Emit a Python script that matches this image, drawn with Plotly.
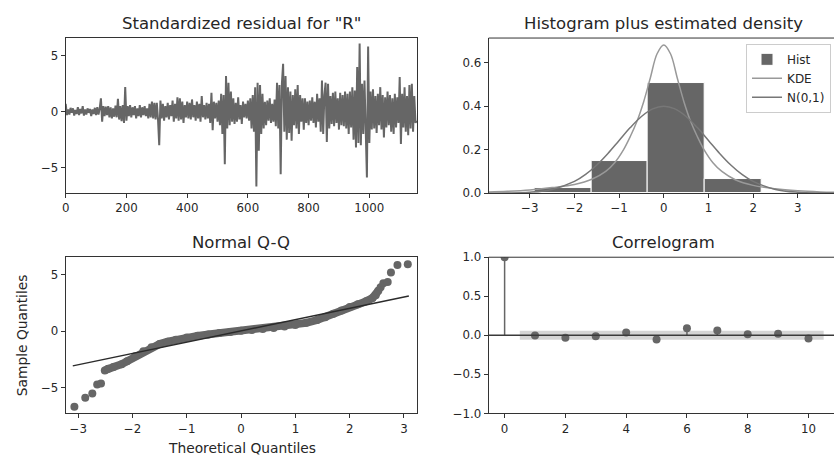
import numpy as np
import plotly.graph_objects as go

# ---------------- data ----------------
# standardized residuals, sampled every 4 observations (blocks of 100 obs)
resid_b0 = [0.7, -0.3, 0.2, -0.25, 0.35, -0.1, 0.3, -0.35, 0.15, -0.2, 0.4, -0.3, 0.25, -0.15, 0.5,
            -0.35, 0.2, -0.25, 0.3, -0.1, 0.25, -0.4, 0.2, -0.2, 0.35]
resid_b1 = [-0.3, 0.4, -0.25, 0.3, 1.2, -0.9, 0.5, -0.4, 0.45, -0.3, 0.5, -0.5, 0.4, -0.6, 0.3,
            -0.45, 0.55, -0.5, 1.15, -0.7, 0.5, -0.85, 0.6, -1.0, 2.2]
resid_b2 = [-0.8, 0.5, -0.4, 0.6, -0.5, 0.4, -0.3, 0.5, -0.6, 0.3, -0.4, 0.6, -0.5, 0.4, -0.3,
            0.5, -0.4, 0.3, -0.6, 0.7, -0.5, 0.9, -0.6, 0.8, -0.7]
resid_b3 = [0.8, -0.7, -3.0, 1.0, -0.6, 0.7, -0.8, 0.5, -0.5, 0.8, -0.7, 0.6, -0.4, 1.0, -0.9,
            0.7, -0.6, 1.3, -0.8, 1.2, -0.7, 0.9, -1.0, 0.6, -0.5]
resid_b4 = [0.9, -0.6, 0.8, -0.7, 1.1, -0.5, 0.6, -0.8, 0.9, -0.6, 0.7, -0.9, 1.4, -0.5, 0.6,
            -0.7, 0.8, -0.6, 0.7, -1.0, 1.7, -1.65, 0.9, -0.6, 0.8]
resid_b5 = [-0.9, 1.0, -1.2, 1.6, -2.0, 1.5, -4.7, 3.2, -1.5, 2.6, -1.2, 1.8, -0.9, 1.2, -1.1,
            0.8, -0.9, 1.3, -0.7, 0.6, -1.1, 0.9, -0.5, 0.7, -0.6]
resid_b6 = [1.0, -0.8, 1.2, -1.5, 1.5, -1.8, 2.2, -6.7, 2.6, -3.5, 2.4, -2.0, 1.6, -1.5, 0.9,
            -1.2, 1.0, -0.8, 1.2, -1.0, 0.7, -0.9, 1.1, -1.3, 2.6]
resid_b7 = [-1.5, 2.4, -5.6, 2.5, 4.3, -1.8, 3.2, -2.5, 2.2, -1.9, 1.8, -2.6, 1.5, -1.2, 2.0,
            -1.5, 2.4, -2.0, 1.5, -0.9, 1.2, -1.6, 1.2, -1.0, 0.9]
resid_b8 = [-1.2, 1.0, -0.8, 1.3, -1.0, 0.9, -1.4, 1.6, -0.9, 1.2, -1.8, 2.8, -2.0, 1.5, 2.6,
            -2.7, 2.5, -1.5, 1.4, -1.1, 1.7, -1.3, 1.8, -1.0, 1.2]
resid_b9 = [-1.6, 1.7, -1.2, 1.5, -1.3, 1.8, -1.5, 1.6, -2.0, 1.8, -1.4, 2.2, -2.5, 1.9, -3.2,
            4.0, -2.8, 6.1, -3.0, 2.5, -2.0, 2.8, -3.3, -5.9, 5.85]
resid_b10 = [-2.8, 1.8, -1.6, 2.0, -1.5, 1.4, -1.9, 1.6, -1.2, 2.2, -1.6, 1.5, -2.3, 1.3, -1.4,
             1.8, -1.2, 1.5, -1.8, 1.2, -2.0, 1.6, -1.4, 1.3, -1.0]
resid_b11 = [3.1, -2.9, 1.6, -1.4, 2.2, -1.8, 1.4, -2.1, 2.4, -1.5, 2.5, -1.8, 1.4, -1.0, -0.8]
resid_values = (resid_b0 + resid_b1 + resid_b2 + resid_b3 + resid_b4 + resid_b5 + resid_b6
                + resid_b7 + resid_b8 + resid_b9 + resid_b10 + resid_b11)
resid_step = 4
resid_index = np.arange(len(resid_values)) * resid_step

# histogram
hist_edges = [-4.16, -2.89, -1.62, -0.35, 0.92, 2.19, 3.46]
hist_density = [0.004, 0.025, 0.147, 0.507, 0.063, 0.007]
# KDE
kde_x = [-3.92, -3.5, -3.0, -2.5, -2.0, -1.6, -1.3, -1.1, -0.9, -0.75, -0.6, -0.45, -0.3, -0.15, 0.0,
         0.15, 0.3, 0.45, 0.6, 0.75, 0.9, 1.1, 1.3, 1.6, 2.0, 2.5, 3.0, 3.5, 3.92]
kde_y = [0.006, 0.009, 0.015, 0.026, 0.040, 0.065, 0.10, 0.14, 0.20, 0.26, 0.33, 0.42, 0.53, 0.64, 0.68,
         0.64, 0.53, 0.42, 0.33, 0.26, 0.20, 0.14, 0.10, 0.062, 0.036, 0.020, 0.011, 0.006, 0.004]
# N(0,1) curve values
norm_x = [-3.92, -3.5, -3.0, -2.5, -2.0, -1.75, -1.5, -1.25, -1.0, -0.75, -0.5, -0.25, 0.0,
          0.25, 0.5, 0.75, 1.0, 1.25, 1.5, 1.75, 2.0, 2.5, 3.0, 3.5, 3.92]
norm_y = [0.0002, 0.0009, 0.0044, 0.0175, 0.0540, 0.0863, 0.1295, 0.1826, 0.2420, 0.3011, 0.3521,
          0.3867, 0.3989, 0.3867, 0.3521, 0.3011, 0.2420, 0.1826, 0.1295, 0.0863, 0.0540, 0.0175,
          0.0044, 0.0009, 0.0002]

# Q-Q
qq_theoretical = [-3.07, -2.87, -2.74, -2.65, -2.58, -2.51, -2.45, -2.35, -2.2, -2.1, -1.95, -1.8,
                  -1.65, -1.5, -1.35, -1.2, -1.0, -0.8, -0.6, -0.4, -0.2, 0.0, 0.2, 0.4, 0.6, 0.8,
                  1.0, 1.2, 1.4, 1.55, 1.7, 1.85, 2.0, 2.15, 2.3, 2.42, 2.48, 2.53, 2.57, 2.62,
                  2.7, 2.76, 2.88, 3.07]
qq_sample = [-6.67, -5.87, -5.5, -4.7, -4.6, -3.45, -3.3, -3.15, -2.9, -2.65, -2.2, -1.75,
             -1.4, -1.12, -0.92, -0.75, -0.55, -0.4, -0.27, -0.15, -0.05, 0.05, 0.12, 0.2, 0.3, 0.42,
             0.56, 0.75, 1.0, 1.25, 1.55, 1.85, 2.15, 2.4, 2.65, 2.95, 3.2, 3.6, 3.9, 4.25,
             4.35, 5.2, 5.86, 5.92]
qq_dense_start, qq_dense_end = 5, 37
qq_line_x = [-3.1, 3.09]
qq_line_y = [-3.05, 3.13]

# Correlogram
acf_lags = [0, 1, 2, 3, 4, 5, 6, 7, 8, 9, 10]
acf_values = [1.0, -0.002, -0.03, -0.012, 0.037, -0.054, 0.09, 0.062, 0.012, 0.02, -0.04]
acf_conf = [0.058, 0.058, 0.058, 0.058, 0.058, 0.058, 0.058, 0.058, 0.058, 0.058]

# ---------------- figure ----------------
W, H = 834, 465
FONT = "DejaVu Sans"
TXT = "#262626"
SPINE = "#333333"


def px(x):
    return x / W


def py(y):
    return 1 - y / H


fig = go.Figure()

# residual line
fig.add_trace(go.Scatter(x=resid_index, y=resid_values, mode="lines",
                         line=dict(color="#666666", width=2), showlegend=False,
                         xaxis="x", yaxis="y"))

# histogram
centers = [(a + b) / 2 for a, b in zip(hist_edges[:-1], hist_edges[1:])]
widths = [b - a for a, b in zip(hist_edges[:-1], hist_edges[1:])]
fig.add_trace(go.Bar(x=centers, y=hist_density, width=widths, name="Hist",
                     marker=dict(color="#666666", line=dict(color="white", width=1)),
                     xaxis="x2", yaxis="y2"))
fig.add_trace(go.Scatter(x=kde_x, y=kde_y, mode="lines", name="KDE", line_shape="spline",
                         line=dict(color="#999999", width=1.5), xaxis="x2", yaxis="y2"))
fig.add_trace(go.Scatter(x=norm_x, y=norm_y, mode="lines", name="N(0,1)", line_shape="spline",
                         line=dict(color="#777777", width=1.5), xaxis="x2", yaxis="y2"))

# Q-Q
fig.add_trace(go.Scatter(x=qq_theoretical[qq_dense_start:qq_dense_end + 1],
                         y=qq_sample[qq_dense_start:qq_dense_end + 1], mode="lines",
                         line=dict(color="#666666", width=8), showlegend=False,
                         xaxis="x3", yaxis="y3"))
fig.add_trace(go.Scatter(x=qq_theoretical, y=qq_sample, mode="markers",
                         marker=dict(color="#666666", size=8), showlegend=False,
                         xaxis="x3", yaxis="y3"))
fig.add_trace(go.Scatter(x=qq_line_x, y=qq_line_y, mode="lines",
                         line=dict(color="#2b2b2b", width=1.5), showlegend=False,
                         xaxis="x3", yaxis="y3"))

# Correlogram band
band_x = [acf_lags[1] - 0.5] + acf_lags[2:-1] + [acf_lags[-1] + 0.5]
band_lo = [-c for c in acf_conf]
fig.add_trace(go.Scatter(x=band_x, y=band_lo, mode="lines", line=dict(width=0, color="#d4d4d4"),
                         showlegend=False, xaxis="x4", yaxis="y4", hoverinfo="skip"))
fig.add_trace(go.Scatter(x=band_x, y=acf_conf, mode="lines", line=dict(width=0, color="#d4d4d4"),
                         fill="tonexty", fillcolor="#d4d4d4", showlegend=False,
                         xaxis="x4", yaxis="y4", hoverinfo="skip"))
stem_x, stem_y = [], []
for lag, v in zip(acf_lags, acf_values):
    stem_x += [lag, lag, None]
    stem_y += [0, v, None]
fig.add_trace(go.Scatter(x=stem_x, y=stem_y, mode="lines", line=dict(color="#666666", width=1.5),
                         showlegend=False, xaxis="x4", yaxis="y4"))
fig.add_trace(go.Scatter(x=acf_lags, y=acf_values, mode="markers",
                         marker=dict(color="#666666", size=8), showlegend=False,
                         xaxis="x4", yaxis="y4"))

axis_common = dict(showline=True, linecolor=SPINE, linewidth=1, ticks="outside", ticklen=4,
                   tickwidth=0.9, tickcolor=SPINE, showgrid=False, zeroline=False,
                   tickfont=dict(family=FONT, size=11.8, color=TXT))

left_dom = [px(62), px(415)]
right_dom = [px(487), 1.0]
top_dom = [py(192), py(32)]
bot_dom = [py(419), py(258)]

fig.update_layout(
    width=W, height=H, margin=dict(l=0, r=0, t=0, b=0),
    paper_bgcolor="white", plot_bgcolor="white", bargap=0,
    font=dict(family=FONT, color=TXT),
    xaxis=dict(domain=left_dom, anchor="y", range=[0, 1157],
               tickvals=[0, 200, 400, 600, 800, 1000], mirror=True, **axis_common),
    yaxis=dict(domain=top_dom, anchor="x", range=[-7.3, 6.6], tickvals=[-5, 0, 5],
               mirror=True, **axis_common),
    xaxis2=dict(domain=right_dom, anchor="y2", range=[-3.92, 3.81],
                tickvals=[-3, -2, -1, 0, 1, 2, 3], **axis_common),
    yaxis2=dict(domain=top_dom, anchor="x2", range=[0, 0.712], tickvals=[0, 0.2, 0.4, 0.6],
                tickformat=".1f", **axis_common),
    xaxis3=dict(domain=left_dom, anchor="y3", range=[-3.23, 3.24],
                tickvals=[-3, -2, -1, 0, 1, 2, 3], mirror=True, **axis_common),
    yaxis3=dict(domain=bot_dom, anchor="x3", range=[-7.25, 6.55], tickvals=[-5, 0, 5],
                mirror=True, **axis_common),
    xaxis4=dict(domain=right_dom, anchor="y4", range=[-0.525, 10.84],
                tickvals=[0, 2, 4, 6, 8, 10], **axis_common),
    yaxis4=dict(domain=bot_dom, anchor="x4", range=[-1, 1], tickvals=[-1, -0.5, 0, 0.5, 1],
                tickformat=".1f", **axis_common),
    legend=dict(x=px(831), xanchor="right", y=py(38), yanchor="top", traceorder="normal",
                bgcolor="rgba(255,255,255,0.9)", bordercolor="#cccccc", borderwidth=1,
                font=dict(family=FONT, size=12, color=TXT), itemwidth=30, tracegroupgap=0),
)

# top spines for right panels, zero line for correlogram
fig.add_shape(type="line", xref="x2 domain", yref="y2 domain", x0=0, x1=1, y0=1, y1=1,
              line=dict(color=SPINE, width=1))
fig.add_shape(type="line", xref="x4 domain", yref="y4 domain", x0=0, x1=1, y0=1, y1=1,
              line=dict(color=SPINE, width=1))
fig.add_shape(type="line", xref="x4 domain", yref="y4", x0=0, x1=1, y0=0, y1=0,
              line=dict(color="#3a3a3a", width=1.5), layer="above")

titles = [
    ('Standardized residual for "R"', (62 + 415) / 2, 17),
    ("Histogram plus estimated density", 663, 17),
    ("Normal Q-Q", (62 + 415) / 2, 243),
    ("Correlogram", 663, 243),
]
for text, cx, cy in titles:
    fig.add_annotation(text=text, x=px(cx), y=py(cy), xref="paper", yref="paper",
                       xanchor="center", yanchor="middle", showarrow=False,
                       font=dict(family=FONT, size=16.5, color=TXT))
fig.add_annotation(text="Theoretical Quantiles", x=px(238.7), y=py(455), xref="paper",
                   yref="paper", xanchor="center", yanchor="middle", showarrow=False,
                   font=dict(family=FONT, size=13.8, color=TXT))
fig.add_annotation(text="Sample Quantiles", x=px(18), y=py(338.5), xref="paper", yref="paper",
                   xanchor="center", yanchor="middle", showarrow=False, textangle=-90,
                   font=dict(family=FONT, size=13.8, color=TXT))

fig.write_html("out.html")
